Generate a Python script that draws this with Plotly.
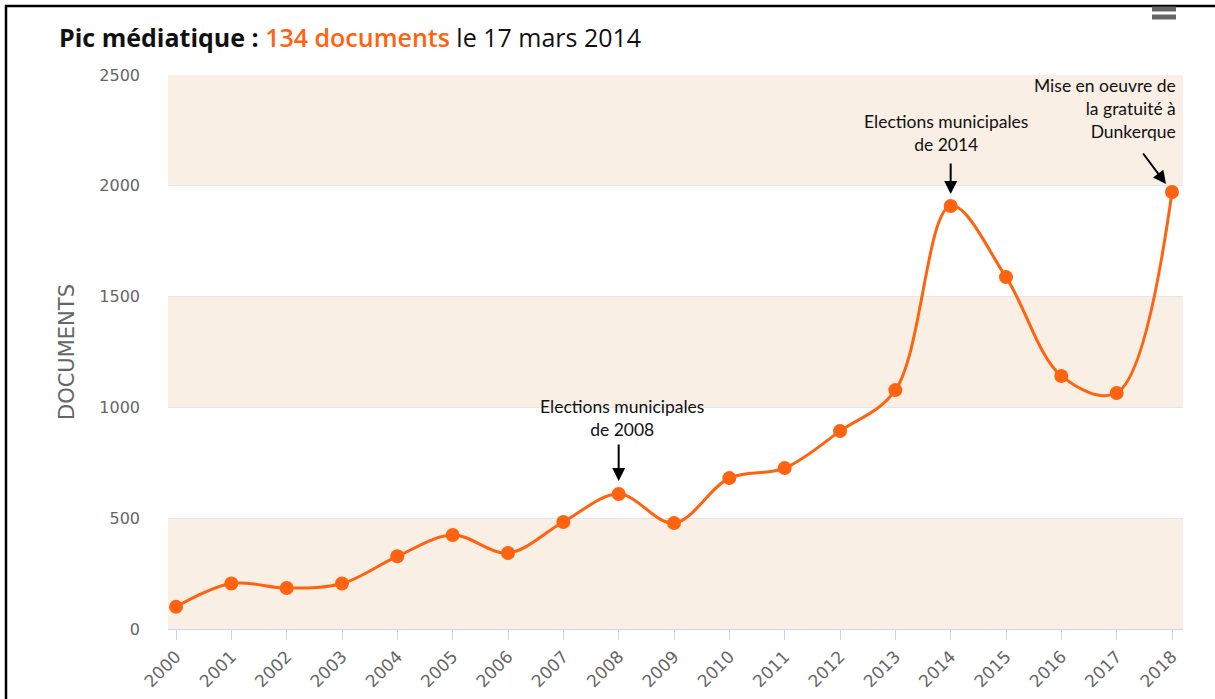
import plotly.graph_objects as go

years = list(range(2000, 2019))
documents = [100, 205, 185, 205, 328, 424, 343, 483, 609, 478, 681, 726, 893, 1078, 1909, 1588, 1142, 1065, 1972]
y_ticks = [0, 500, 1000, 1500, 2000, 2500]
bands = [(0, 500), (1000, 1500), (2000, 2500)]

ORANGE = "#FF6310"
W, H = 1215, 699
L, R, T, B = 168, 1183, 75, 629

def px(xp):
    return (xp - L) / (R - L)

def py(yp):
    return (B - yp) / (B - T)

fig = go.Figure()
fig.add_trace(go.Scatter(
    x=years, y=documents, mode="lines+markers",
    line=dict(color=ORANGE, width=3, shape="spline", smoothing=1.0),
    marker=dict(color=ORANGE, size=14),
    hoverinfo="x+y", showlegend=False,
))

shapes = []
for lo, hi in bands:
    shapes.append(dict(type="rect", xref="paper", yref="y", x0=0, x1=1, y0=lo, y1=hi,
                       fillcolor="#FAEFE5", line=dict(width=0), layer="between"))
# frame border
shapes.append(dict(type="line", xref="paper", yref="paper", x0=px(6), x1=px(6), y0=py(5), y1=py(700),
                   line=dict(color="black", width=2.5)))
shapes.append(dict(type="line", xref="paper", yref="paper", x0=px(5), x1=px(1216), y0=py(6), y1=py(6),
                   line=dict(color="black", width=2.5)))
# menu icon
for yy in [9, 17]:
    shapes.append(dict(type="line", xref="paper", yref="paper", x0=px(1152), x1=px(1176), y0=py(yy), y1=py(yy),
                       line=dict(color="#666666", width=5)))

ann_font = dict(family="Lato, Liberation Sans, sans-serif", size=17.5, color="#111111")
annotations = [
    dict(xref="paper", yref="paper", x=px(57), y=py(37), xanchor="left", yanchor="middle", showarrow=False,
         text="<b>Pic médiatique : </b><span style='color:%s;font-weight:600'>134 documents</span> le 17 mars 2014" % ORANGE,
         font=dict(family="Open Sans, sans-serif", size=25, color="#111111")),
    # arrows
    dict(x=2008, y=documents[8], xref="x", yref="y", text="", showarrow=True, ax=0, ay=-51,
         arrowhead=2, arrowsize=1.3, arrowwidth=2, arrowcolor="black", standoff=13),
    dict(x=2014, y=documents[14], xref="x", yref="y", text="", showarrow=True, ax=0, ay=-44,
         arrowhead=2, arrowsize=1.3, arrowwidth=2, arrowcolor="black", standoff=12),
    dict(x=2018, y=documents[18], xref="x", yref="y", text="", showarrow=True, ax=-30, ay=-40,
         arrowhead=2, arrowsize=1.3, arrowwidth=2, arrowcolor="black", standoff=10),
    # texts
    dict(x=2008, y=952, xref="x", yref="y", showarrow=False, text="Elections municipales<br>de 2008",
         font=ann_font, align="center", xanchor="center", yanchor="middle", xshift=3),
    dict(x=2014, y=2238, xref="x", yref="y", showarrow=False, text="Elections municipales<br>de 2014",
         font=ann_font, align="center", xanchor="center", yanchor="middle", xshift=-5),
    dict(x=2018, y=2347, xref="x", yref="y", showarrow=False, text="Mise en oeuvre de<br>la gratuité à<br>Dunkerque",
         font=ann_font, align="right", xanchor="right", yanchor="middle", xshift=6),
]

fig.update_layout(
    width=W, height=H,
    margin=dict(l=L, r=W - R, t=T, b=H - B, pad=0, autoexpand=False),
    paper_bgcolor="white", plot_bgcolor="white",
    shapes=shapes, annotations=annotations,
    font=dict(family="DejaVu Sans, sans-serif", color="#666666"),
)
fig.update_xaxes(
    range=[2000 - 8 / 55.33, 2018 + 11 / 55.33], automargin=False,
    tickmode="array", tickvals=years, ticktext=[str(y) for y in years],
    tickangle=-45, tickfont=dict(size=17, color="#666666"),
    ticks="outside", ticklen=10, tickcolor="#ccd6eb", tickwidth=1,
    showline=True, linecolor="#ccd6eb", linewidth=1,
    showgrid=False, zeroline=False,
)
fig.update_yaxes(
    range=[0, 2500], tickmode="array", tickvals=y_ticks, automargin=False,
    tickfont=dict(size=16, color="#666666"), ticklabelstandoff=27,
    showgrid=True, gridcolor="#e6e6e6", gridwidth=1, zeroline=False,
    title=dict(text="DOCUMENTS", font=dict(size=21, color="#666666"), standoff=18),
)

fig.write_html("out.html", config={"displayModeBar": False},
               post_script="document.body.style.margin='0px';document.body.style.overflow='hidden';")
